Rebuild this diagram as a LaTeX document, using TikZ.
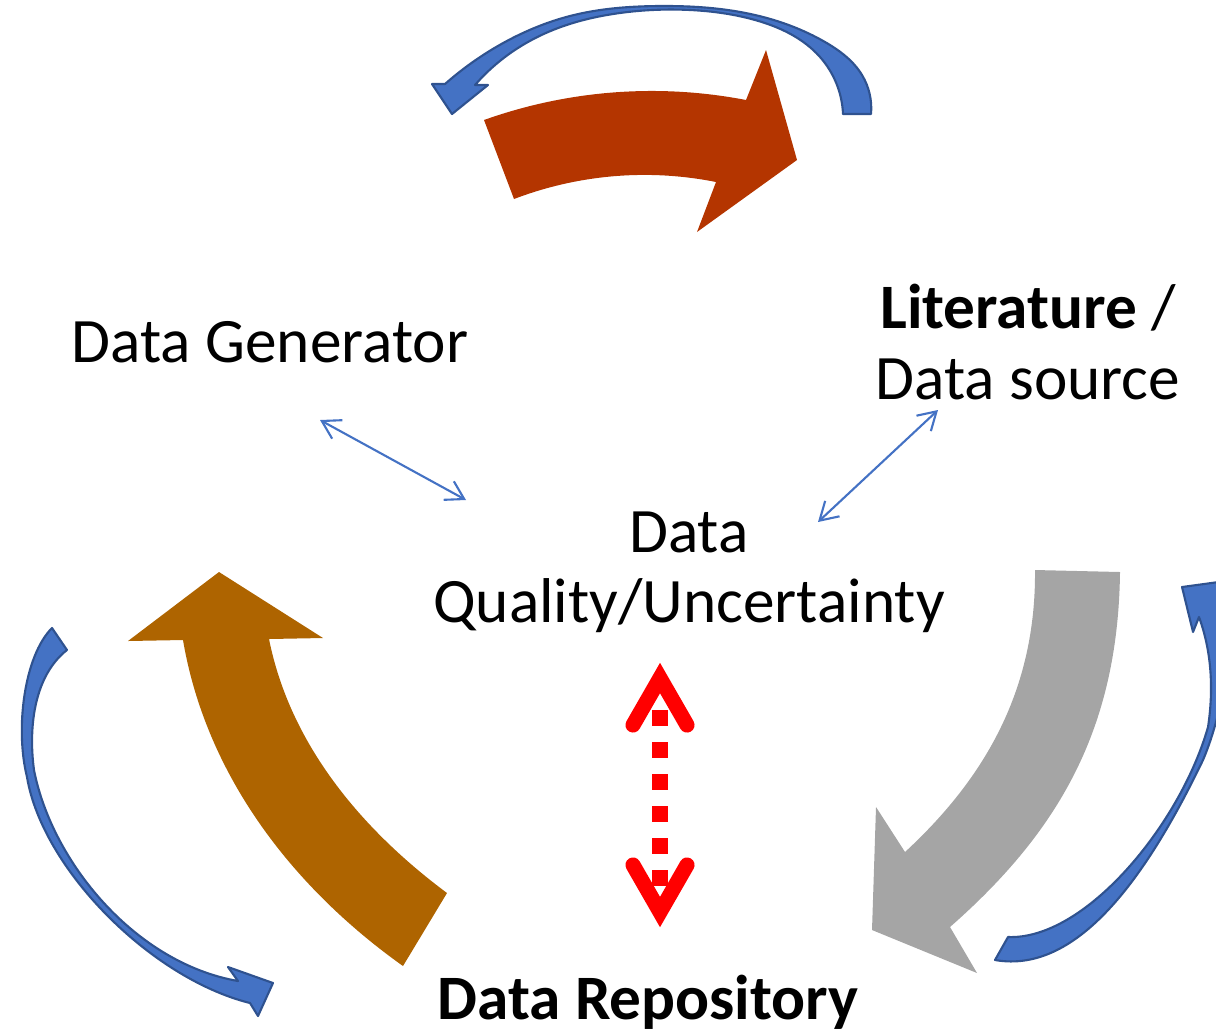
\documentclass[tikz,border=0pt]{standalone}
\usepackage{fontspec}
\setmainfont{Carlito}
\usepackage{xcolor}
\usepackage{tikz}
\usetikzlibrary{hobby}
\usetikzlibrary{calc}
\usetikzlibrary{arrows.meta}

\definecolor{loopblue}{RGB}{68,114,196}
\definecolor{loopedge}{RGB}{47,82,143}
\definecolor{rustred}{RGB}{180,53,0}
\definecolor{ochre}{RGB}{174,100,0}
\definecolor{stonegray}{RGB}{165,165,165}

\tikzset{
  lbl/.style={font=\fontsize{18}{20}\selectfont, align=center, inner sep=0pt},
  bluebend/.style={fill=loopblue, draw=loopedge, line width=0.6pt, line join=round},
  thinlink/.style={loopblue, line width=0.6pt, {Straight Barb[length=5pt,width=6pt]}-{Straight Barb[length=5pt,width=6pt]}},
  qlink/.style={red, line width=4.5pt, dash pattern=on 4.55pt off 4.55pt},
  qhead/.style={red, line width=4.3pt, line cap=round},
}

\begin{document}
\begin{tikzpicture}[x=0.01cm, y=-0.01cm]
    \useasboundingbox (0,0) rectangle (1216,1033);
    \clip (0,0) rectangle (1216,1033);
    % big curved arrows
    \fill[rustred] (484,120) to[curve through={(647,91)}] (746,100) -- (766,50) -- (797,160) -- (697,232) -- (716,182) to[curve through={(637,175)}] (514,199) -- cycle;
    \fill[ochre] (403,966) -- (447,893) .. controls (361,829) and (290,744) .. (269,639) -- (323,638) -- (219,572) -- (128,641) -- (183,640) .. controls (206,775) and (292,887) .. (403,966) -- cycle;
    \fill[stonegray] (1035,570) -- (1120,572) .. controls (1118,730) and (1058,832) .. (950,927) -- (977,973) -- (872,930) -- (876,807) -- (905,852) .. controls (985,778) and (1036,690) .. (1035,570) -- cycle;
    % thin blue loops
    \filldraw[bluebend] (843,114) -- (871,114) to[curve through={(862,75) .. (825,42) .. (755,15) .. (660,6) .. (570,16) .. (505,42)}] (445,84) -- (432,84) -- (452,114) -- (488,85) -- (475,85) to[curve through={(505,57) .. (553,30) .. (620,13) .. (690,10) .. (755,20) .. (820,57)}] (843,114) -- cycle;
    \filldraw[bluebend] (67,650) -- (52,628) .. controls (24,656) and (15,729) .. (27,777) .. controls (42,868) and (150,978) .. (250,1003) -- (258,1016) -- (273,983) -- (228,967) -- (238,981) .. controls (135,963) and (52,862) .. (34,770) .. controls (28,725) and (35,675) .. (67,650) -- cycle;
    \filldraw[bluebend] (1008,937) .. controls (1085,940) and (1180,825) .. (1208,727) .. controls (1214,687) and (1211,650) .. (1199,617) -- (1193,632) -- (1182,587) -- (1248,578) -- (1232,600) .. controls (1232,660) and (1220,720) .. (1203,760) .. controls (1150,870) and (1080,975) .. (995,960) -- cycle;
    % labels
    \node[lbl, anchor=base] (gen) at (270,362) {Data Generator};
    \node[lbl] (lit) at (1028,342) {\textbf{Literature} /\\Data source};
    \node[lbl] (dq) at (689,572) {Data\\Quality/Uncertainty};
    \node[lbl, anchor=base, font=\fontsize{18}{20}\selectfont\bfseries] (repo) at (648,1019) {Data Repository};
    % links to the middle
    \coordinate (genfoot) at (320,420);
    \coordinate (dqleft) at (466,500);
    \coordinate (litfoot) at (938,410);
    \coordinate (dqtop) at (818,522);
    \draw[thinlink] (genfoot) -- (dqleft);
    \draw[thinlink] (litfoot) -- (dqtop);
    % quality <-> repository
    \coordinate (qtip) at (660,678);
    \coordinate (rtip) at (660,912);
    \draw[qlink] ($(qtip)+(0,32)$) -- ($(rtip)+(0,-26)$);
    \draw[qhead] ($(qtip)+(-27,47)$) -- (qtip) -- ($(qtip)+(27,47)$);
    \draw[qhead] ($(rtip)+(-27,-47)$) -- (rtip) -- ($(rtip)+(27,-47)$);
\end{tikzpicture}
\end{document}
